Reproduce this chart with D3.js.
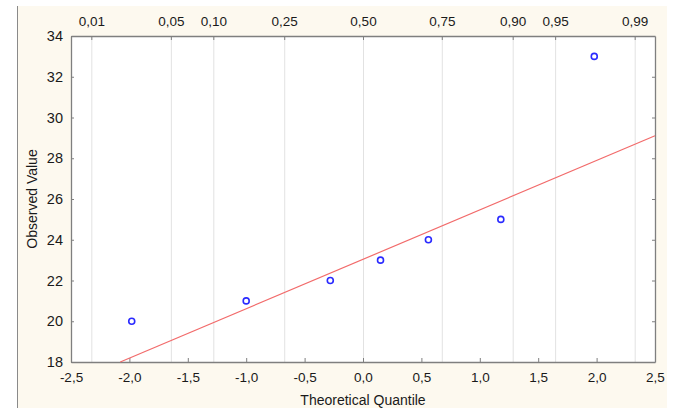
<!DOCTYPE html>
<html><head><meta charset="utf-8">
<script src="https://cdn.jsdelivr.net/npm/d3@7"></script>
<style>body{margin:0;background:#fff;}svg{display:block;font-family:"Liberation Sans",Arial,sans-serif;}</style>
</head><body><svg id="c" width="675" height="408"></svg>
<script>
const theoreticalQuantiles = [-1.98, -1.0, -0.28, 0.15, 0.56, 1.18, 1.98];
const observedValues = [20, 21, 22, 23, 24, 25, 33];
const xTicks = [-2.5, -2.0, -1.5, -1.0, -0.5, 0.0, 0.5, 1.0, 1.5, 2.0, 2.5];
const yTicks = [18, 20, 22, 24, 26, 28, 30, 32, 34];
const probTicks = [0.01, 0.05, 0.10, 0.25, 0.50, 0.75, 0.90, 0.95, 0.99];
const probZ = [-2.326, -1.645, -1.2816, -0.6745, 0, 0.6745, 1.2816, 1.645, 2.326];
const fitIntercept = 23.04, fitSlope = 2.425;

const svg = d3.select("#c");
const L = 71, R = 655, T = 36, B = 362;
const x = d3.scaleLinear().domain([-2.5, 2.5]).range([L, R]);
const y = d3.scaleLinear().domain([18, 34]).range([B, T]);
const fmt = d => d3.format(".1f")(d).replace(".", ",").replace("−","-");

svg.append("clipPath").attr("id","bg").append("rect").attr("x",17).attr("y",6).attr("width",650).attr("height",402);
const g0 = svg.append("g").attr("clip-path","url(#bg)");
g0.append("rect").attr("x",17).attr("y",6).attr("width",650).attr("height",402).attr("fill","#fdf9ef");
svg.append("line").attr("x1",17.5).attr("x2",17.5).attr("y1",6).attr("y2",408).attr("stroke","#8a8a8a");

g0.append("rect").attr("x",L).attr("y",T).attr("width",R-L).attr("height",B-T).attr("fill","#fff");

// probability grid lines
g0.selectAll("line.grid").data(probZ).join("line").attr("class","grid")
  .attr("x1",d=>x(d)+0.5).attr("x2",d=>x(d)+0.5).attr("y1",T).attr("y2",B)
  .attr("stroke","#e2e2e2").attr("stroke-width",1);

// axes
const axisColor = "#7f7f7f";
const ax = g0.append("g").attr("transform",`translate(0,${B})`)
  .call(d3.axisBottom(x).tickValues(xTicks).tickSizeInner(-4).tickSizeOuter(0).tickPadding(10).tickFormat(fmt));
const ay = g0.append("g").attr("transform",`translate(${L},0)`)
  .call(d3.axisLeft(y).tickValues(yTicks).tickSizeInner(-3).tickSizeOuter(0).tickPadding(8).tickFormat(d3.format("d")));
const ar = g0.append("g").attr("transform",`translate(${R},0)`)
  .call(d3.axisRight(y).tickValues(yTicks).tickSizeInner(-3).tickSizeOuter(0).tickFormat(""));
const at = g0.append("g").attr("transform",`translate(0,${T})`)
  .call(d3.axisTop(x).tickValues(probZ).tickSizeInner(-4).tickSizeOuter(0).tickPadding(10)
    .tickFormat((d,i)=>d3.format(".2f")(probTicks[i]).replace(".",",")));
[ax,ay,ar,at].forEach(a=>{
  a.select(".domain").attr("stroke",axisColor).attr("stroke-width",1.3);
  a.selectAll(".tick line").attr("stroke",axisColor);
  a.selectAll("text").attr("fill","#1a1a1a").attr("font-size",13.5).attr("font-family","Liberation Sans, Arial, sans-serif");
});
ay.selectAll("text").attr("font-size",14.5);
at.selectAll("text").attr("dy","0");

// fit line
const x0 = (18 - fitIntercept)/fitSlope;
g0.append("line").attr("x1",x(x0)).attr("y1",y(18)).attr("x2",x(2.5)).attr("y2",y(fitIntercept+fitSlope*2.5))
  .attr("stroke","#f26b6b").attr("stroke-width",1.2);

// points
g0.selectAll("circle.pt").data(observedValues).join("circle").attr("class","pt")
  .attr("cx",(d,i)=>x(theoreticalQuantiles[i])).attr("cy",d=>y(d)).attr("r",3)
  .attr("fill","#fff").attr("stroke","#2a2aff").attr("stroke-width",1.6);

// titles
g0.append("text").attr("x",(L+R)/2).attr("y",405).attr("text-anchor","middle")
  .attr("font-size",14).attr("fill","#1a1a1a").text("Theoretical Quantile");
g0.append("text").attr("transform",`translate(37,${(T+B)/2}) rotate(-90)`).attr("text-anchor","middle")
  .attr("font-size",14).attr("fill","#1a1a1a").text("Observed Value");
</script></body></html>
